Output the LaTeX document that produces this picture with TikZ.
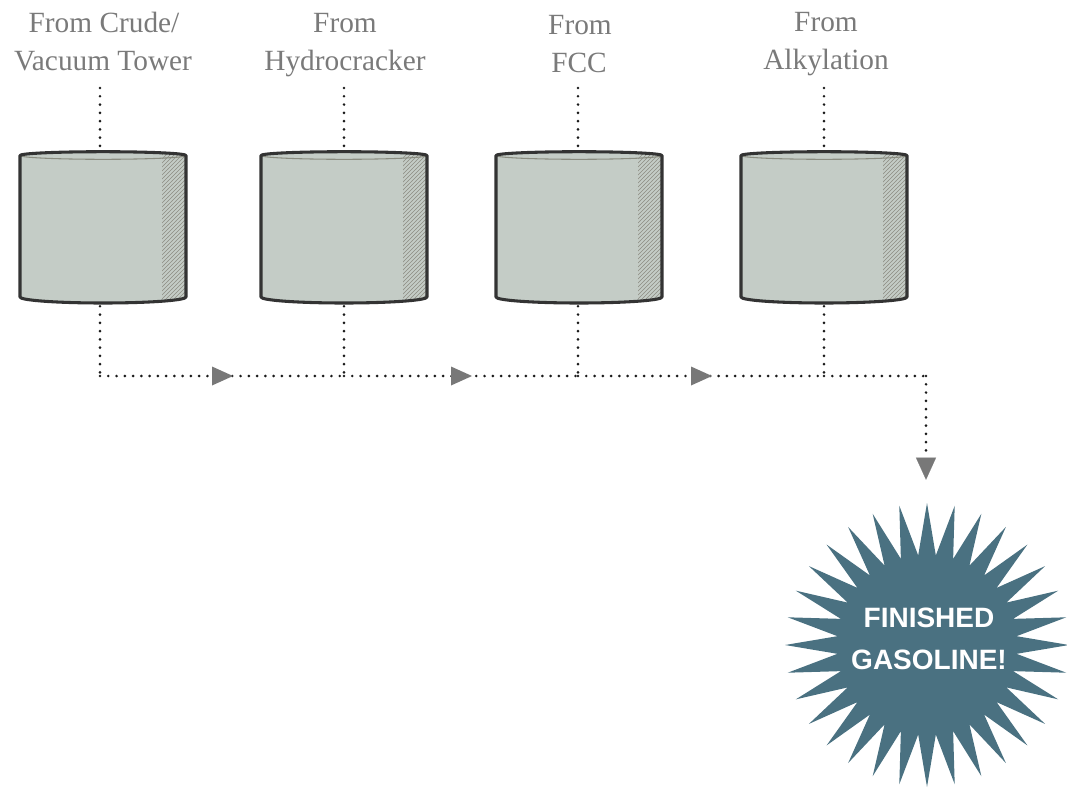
\documentclass[tikz,border=0pt]{standalone}
\usepackage{fontspec}
\setmainfont{Liberation Serif}
\newfontfamily\burstfont{Liberation Sans}
\usetikzlibrary{patterns,arrows.meta,decorations.markings}
\definecolor{tankfill}{HTML}{C4CCC6}
\definecolor{tankline}{HTML}{333333}
\definecolor{rimline}{HTML}{8A8C80}
\definecolor{hatchcol}{HTML}{8C8C82}
\definecolor{labelgray}{HTML}{7A7A7A}
\definecolor{arrowgray}{HTML}{787878}
\definecolor{dotcol}{HTML}{1A1A1A}
\definecolor{burstcol}{HTML}{4A7181}
\tikzset{
 dotline/.style={draw=dotcol, line width=2.2pt, line cap=round, dash pattern=on 0pt off 6.2pt},
 lbl/.style={anchor=base, text=labelgray, inner sep=0pt, font=\fontsize{22pt}{26pt}\selectfont},
 tankbox/.style={rectangle, minimum width=124.5pt, minimum height=117pt, inner sep=0pt},
 midarrow/.style={postaction={decorate}, decoration={markings, mark=at position 0.5 with {\fill[arrowgray] (-10,-9.5) -- (11,0) -- (-10,9.5) -- cycle;}}},
 burstnode/.style={circle, minimum size=213pt, inner sep=0pt, text=white, align=center, font=\burstfont\bfseries\fontsize{21pt}{31.5pt}\selectfont},
}
\begin{document}
\begin{tikzpicture}[x=0.75pt,y=-0.75pt]
\useasboundingbox (0,0) rectangle (1067,789);
% labels
\node[lbl] (l1a) at (104,32) {From Crude/};
\node[lbl] (l1b) at (103,70) {Vacuum Tower};
\node[lbl] (l2a) at (345,32) {From};
\node[lbl] (l2b) at (345,70) {Hydrocracker};
\node[lbl] (l3a) at (580,34) {From};
\node[lbl] (l3b) at (579,72) {FCC};
\node[lbl] (l4a) at (826,31) {From};
\node[lbl] (l4b) at (826,69) {Alkylation};
% tanks
\foreach \i/\L/\X in {1/20/100, 2/261/344, 3/496/578, 4/741/824} {
  \pgfmathsetmacro\R{\L+166}
  \pgfmathsetmacro\H{\L+142}
  \pgfmathsetmacro\C{\L+83}
  \node[tankbox] (t\i) at (\C,228) {};
  \fill[tankfill] (\L,155.5) -- (\L,297) arc[start angle=180, end angle=0, x radius=83, y radius=6] -- (\R,155.5) arc[start angle=0, end angle=-180, x radius=83, y radius=3.8] -- cycle;
  \begin{scope}
    \clip (\L,155.5) -- (\L,297) arc[start angle=180, end angle=0, x radius=83, y radius=6] -- (\R,155.5) arc[start angle=0, end angle=-180, x radius=83, y radius=3.8] -- cycle;
    \fill[pattern=north east lines, pattern color=hatchcol] (\H,150) rectangle (\R,306);
  \end{scope}
  \draw[rimline, line width=0.8pt] (\L,155.5) arc[start angle=180, end angle=0, x radius=83, y radius=3.8];
  \draw[tankline, line width=2.3pt, line join=round] (\L,155.5) -- (\L,297) arc[start angle=180, end angle=0, x radius=83, y radius=6] -- (\R,155.5) arc[start angle=0, end angle=-180, x radius=83, y radius=3.8] -- cycle;
  \coordinate (in\i) at (\X,88);
  \coordinate (out\i) at (\X,376);
  \draw[dotline] (in\i) -- (in\i |- t\i.north);
  \draw[dotline] (in\i |- t\i.south) -- (out\i);
}
% starburst
\fill[burstcol, shift={(927,645)}] (0:142) \foreach \k in {0,...,31} { -- ({\k*11.25+5.625}:90) -- ({\k*11.25+11.25}:142) } -- cycle;
\node[burstnode] (burst) at (929,639) {FINISHED\\GASOLINE!};
% connectors
\coordinate (turn) at (926,376);
\draw[dotline, midarrow] (out1) -- (out2);
\draw[dotline, midarrow] (out2) -- (out3);
\draw[dotline, midarrow] (out3) -- (out4);
\draw[dotline] (out4) -- (turn);
\draw[dotline, -{Triangle[length=16.5pt, width=15pt, fill=arrowgray, color=arrowgray, line width=0.1pt]}, shorten >=12.75pt] (turn) -- (turn |- burst.north);
\end{tikzpicture}
\end{document}
